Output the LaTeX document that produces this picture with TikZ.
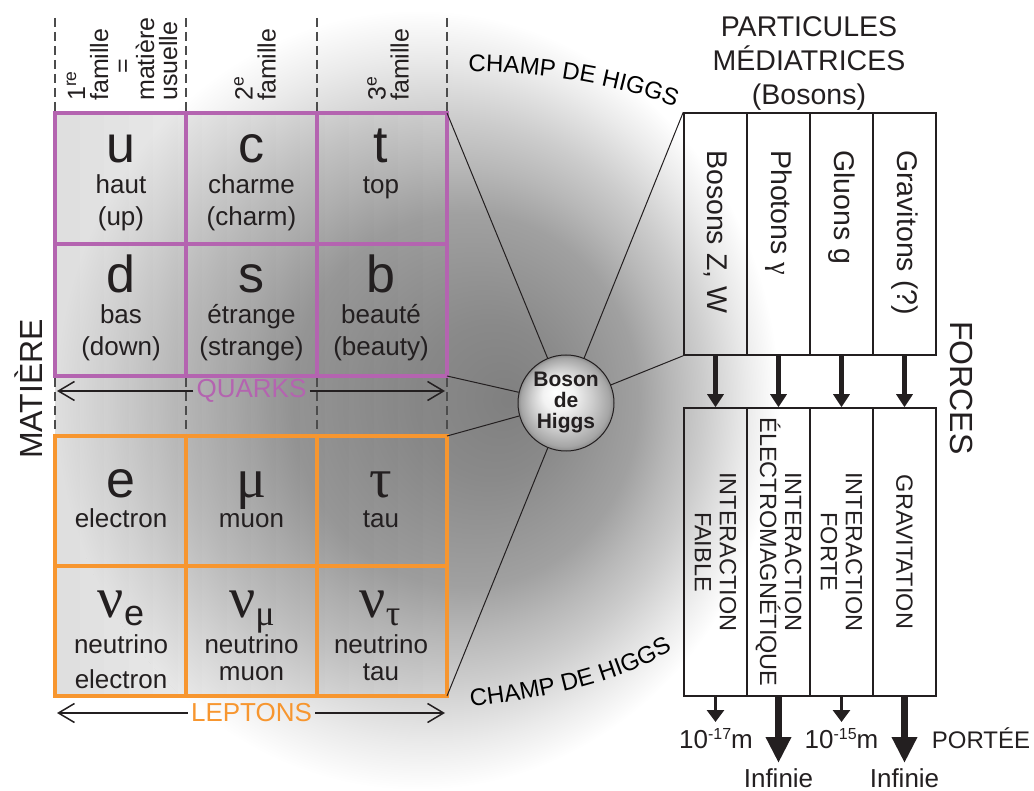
\documentclass[tikz,border=0pt]{standalone}
\usepackage{fontspec}
\setmainfont{Liberation Sans}
\newfontfamily\grk{Liberation Serif}
\usetikzlibrary{arrows.meta,decorations.text}
\definecolor{quarkc}{HTML}{B464B0}
\definecolor{leptonc}{HTML}{F7962F}
\definecolor{inkc}{HTML}{231F20}
\pgfdeclareradialshading{fieldshade}{\pgfpoint{6.4bp}{0bp}}{color(0bp)=(black!50); color(5bp)=(black!46); color(12bp)=(black!37); color(15bp)=(black!28); color(18bp)=(black!20); color(22bp)=(black!8); color(25bp)=(white)}
\pgfdeclareradialshading{ballshade}{\pgfpoint{-6bp}{6bp}}{color(0bp)=(white); color(8bp)=(black!5); color(16bp)=(black!20); color(23bp)=(black!35); color(25bp)=(black!45)}
\newcommand{\fsz}[2]{\fontsize{#1}{#2}\selectfont}
\begin{document}
\begin{tikzpicture}[x=1pt,y=-1pt,
 every node/.style={inner sep=0pt,text=inkc},
 letterq/.style={font=\fsz{52}{52}, anchor=base},
 namelab/.style={font=\fsz{26}{31}, anchor=base},
 greekbig/.style={font=\grk\fsz{56}{56}, anchor=base},
 famlab/.style={font=\fsz{25}{23}, rotate=90, anchor=west, align=left},
 gridq/.style={draw=quarkc, line width=4pt},
 gridl/.style={draw=leptonc, line width=4pt},
 famdash/.style={draw=black!70, line width=1.2pt, dash pattern=on 9pt off 5pt},
 rangearrow/.style={draw=inkc, line width=1.5pt, -{Straight Barb[length=16pt,width=19pt]}},
 higgsline/.style={draw=inkc, line width=1pt},
 bosbox/.style={draw=inkc, line width=1.5pt, minimum width=63pt, minimum height=242pt},
 forbox/.style={draw=inkc, line width=1.5pt, minimum width=63pt, minimum height=288pt},
 bostext/.style={font=\fsz{28.5}{30}, rotate=-90, anchor=west},
 fortext/.style={font=\fsz{23.5}{25}, rotate=-90, align=center},
 medarrow/.style={draw=inkc, line width=5pt, -{Triangle[length=13pt,width=16pt]}},
 thinarrow/.style={draw=inkc, line width=3.5pt, -{Triangle[length=12pt,width=17pt]}},
 fatarrow/.style={draw=inkc, line width=7pt, -{Triangle[length=26pt,width=24pt]}},
 rangelab/.style={font=\fsz{26}{26}, anchor=base},
]
\useasboundingbox (0,0) rectangle (1034,791);
% Higgs field background
\shade[shading=fieldshade] (417,400) ellipse [x radius=362pt, y radius=390pt];
\foreach \i in {0,...,15} {
  \fill[black, fill opacity=0.0087] (55,113) rectangle ({447-\i*24.5},696);
}
% dashed family separators
\foreach \xx in {55,186,317,447} {
  \draw[famdash] (\xx,18) -- (\xx,111);
  \draw[famdash] (\xx,378) -- (\xx,434);
}
% family labels
\node[famlab] (fam1) at (122,101) {1\textsuperscript{re}\\famille\\\hspace*{27pt}=\\matière\\usuelle};
\node[famlab] (fam2) at (255,101) {2\textsuperscript{e}\\famille};
\node[famlab] (fam3) at (388,101) {3\textsuperscript{e}\\famille};
% grids
\draw[gridq] (55,113) rectangle (447,376);
\draw[gridq] (186,113) -- (186,376) (317,113) -- (317,376) (55,244.5) -- (447,244.5);
\draw[gridl] (55,436) rectangle (447,696);
\draw[gridl] (186,436) -- (186,696) (317,436) -- (317,696) (55,566) -- (447,566);
% quarks
\node[letterq] (qu) at (121,163) {u};
\node[namelab] (qu1) at (121,194) {haut};
\node[namelab] (qu2) at (121,226) {(up)};
\node[letterq] (qc) at (251.5,163) {c};
\node[namelab] (qc1) at (251.5,194) {charme};
\node[namelab] (qc2) at (251.5,226) {(charm)};
\node[letterq] (qt) at (381,163) {t};
\node[namelab] (qt1) at (381,194) {top};
\node[letterq] (qd) at (121,293) {d};
\node[namelab] (qd1) at (121,324) {bas};
\node[namelab] (qd2) at (121,356) {(down)};
\node[letterq] (qs) at (251.5,293) {s};
\node[namelab] (qs1) at (251.5,324) {étrange};
\node[namelab] (qs2) at (251.5,356) {(strange)};
\node[letterq] (qb) at (381,293) {b};
\node[namelab] (qb1) at (381,324) {beauté};
\node[namelab] (qb2) at (381,356) {(beauty)};
% leptons
\node[letterq] (le) at (121,497) {e};
\node[namelab] (le1) at (121,527) {electron};
\node[greekbig] (lmu) at (251.5,497) {μ};
\node[namelab] (lmu1) at (251.5,527) {muon};
\node[greekbig] (ltau) at (381,497) {τ};
\node[namelab] (ltau1) at (381,527) {tau};
\node[anchor=base] (lnue) at (121,617) {{\grk\fsz{58}{58}ν}\raisebox{-8pt}{\fsz{36}{36}e}};
\node[namelab] (lnue1) at (121,653) {neutrino};
\node[namelab] (lnue2) at (121,688) {electron};
\node[anchor=base] (lnumu) at (252,617) {{\grk\fsz{58}{58}ν}\raisebox{-8pt}{\grk\fsz{36}{36}μ}};
\node[namelab] (lnumu1) at (251.5,653) {neutrino};
\node[namelab] (lnumu2) at (251.5,680) {muon};
\node[anchor=base] (lnutau) at (380,617) {{\grk\fsz{58}{58}ν}\raisebox{-8pt}{\grk\fsz{36}{36}τ}};
\node[namelab] (lnutau1) at (381,653) {neutrino};
\node[namelab] (lnutau2) at (381,680) {tau};
% range arrows
\node[font=\fsz{26}{26}, text=quarkc, inner xsep=3pt] (qlab) at (251.5,391) {QUARKS};
\coordinate (qleft) at (57,391);
\coordinate (qright) at (445,391);
\draw[rangearrow] (qlab.west) -- (qleft);
\draw[rangearrow] (qlab.east) -- (qright);
\node[font=\fsz{26}{26}, text=leptonc, inner xsep=3pt] (llab) at (251.5,713) {LEPTONS};
\coordinate (lleft) at (57,713);
\coordinate (lright) at (445,713);
\draw[rangearrow] (llab.west) -- (lleft);
\draw[rangearrow] (llab.east) -- (lright);
% side labels
\node[font=\fsz{32}{32}, rotate=90] (mat) at (29,389) {MATIÈRE};
\node[font=\fsz{32}{32}, rotate=-90] (forces) at (962,388) {FORCES};
% title
\node[font=\fsz{28.5}{30}, anchor=base] (t1) at (809,37) {PARTICULES};
\node[font=\fsz{28.5}{30}, anchor=base] (t2) at (809,71) {MÉDIATRICES};
\node[font=\fsz{28.5}{30}, anchor=base] (t3) at (809,105) {(Bosons)};
% boson boxes
\node[bosbox] (b1) at (715.5,234) {};
\node[bosbox] (b2) at (778.5,234) {};
\node[bosbox] (b3) at (841.5,234) {};
\node[bosbox] (b4) at (904.5,234) {};
\node[bostext] (bt1) at (715.5,150) {Bosons Z, W};
\node[bostext] (bt2) at (778.5,150) {Photons {\grk γ}};
\node[bostext] (bt3) at (841.5,150) {Gluons g};
\node[bostext] (bt4) at (904.5,150) {Gravitons (?)};
% force boxes
\node[forbox] (f1) at (715.5,552) {};
\node[forbox] (f2) at (778.5,552) {};
\node[forbox] (f3) at (841.5,552) {};
\node[forbox] (f4) at (904.5,552) {};
\node[fortext] (ft1) at (715.5,552) {INTERACTION\\FAIBLE};
\node[fortext] (ft2) at (778.5,552) {INTERACTION\\ÉLECTROMAGNÉTIQUE};
\node[fortext] (ft3) at (841.5,552) {INTERACTION\\FORTE};
\node[fortext] (ft4) at (904.5,552) {GRAVITATION};
\draw[medarrow] (b1.south) -- (f1.north);
\draw[medarrow] (b2.south) -- (f2.north);
\draw[medarrow] (b3.south) -- (f3.north);
\draw[medarrow] (b4.south) -- (f4.north);
% range
\coordinate (r1) at (715.5,722);
\coordinate (r2) at (778.5,763);
\coordinate (r3) at (841.5,722);
\coordinate (r4) at (904.5,763);
\draw[thinarrow] (f1.south) -- (r1);
\draw[fatarrow] (f2.south) -- (r2);
\draw[thinarrow] (f3.south) -- (r3);
\draw[fatarrow] (f4.south) -- (r4);
\node[rangelab] (l1) at (716,748) {10\raisebox{9pt}{\fsz{16}{16}-17}m};
\node[rangelab] (l2) at (778.5,787) {Infinie};
\node[rangelab] (l3) at (841.5,748) {10\raisebox{9pt}{\fsz{16}{16}-15}m};
\node[rangelab] (l4) at (904.5,787) {Infinie};
\node[rangelab, font=\fsz{24}{24}] (l5) at (981,748) {PORTÉE};
% Higgs boson
\node[circle, draw=inkc, line width=1pt, shade, shading=ballshade, minimum size=96pt, font=\bfseries\fsz{21}{21}, align=center] (higgs) at (566,403) {Boson\\de\\Higgs};
\coordinate (qtr) at (447,113);
\coordinate (qbr) at (447,376);
\coordinate (ltr) at (447,436);
\coordinate (lbr) at (447,696);
\draw[higgsline] (higgs) -- (qtr);
\draw[higgsline] (higgs) -- (qbr);
\draw[higgsline] (higgs) -- (ltr);
\draw[higgsline] (higgs) -- (lbr);
\draw[higgsline] (higgs) -- (b1.north west);
\draw[higgsline] (higgs) -- (b1.south west);
% field labels
\coordinate (c1a) at (450,72);
\coordinate (c1b) at (530,70);
\coordinate (c1c) at (620,82);
\coordinate (c1d) at (692,114);
\path[decorate, decoration={text along path, text align=center, text={|\fsz{24}{24}|CHAMP DE HIGGS}}] (c1a) .. controls (c1b) and (c1c) .. (c1d);
\coordinate (c2a) at (448,709);
\coordinate (c2b) at (540,700);
\coordinate (c2c) at (625,684);
\coordinate (c2d) at (692,638);
\path[decorate, decoration={text along path, text align=center, text={|\fsz{24}{24}|CHAMP DE HIGGS}}] (c2a) .. controls (c2b) and (c2c) .. (c2d);
\end{tikzpicture}
\end{document}
